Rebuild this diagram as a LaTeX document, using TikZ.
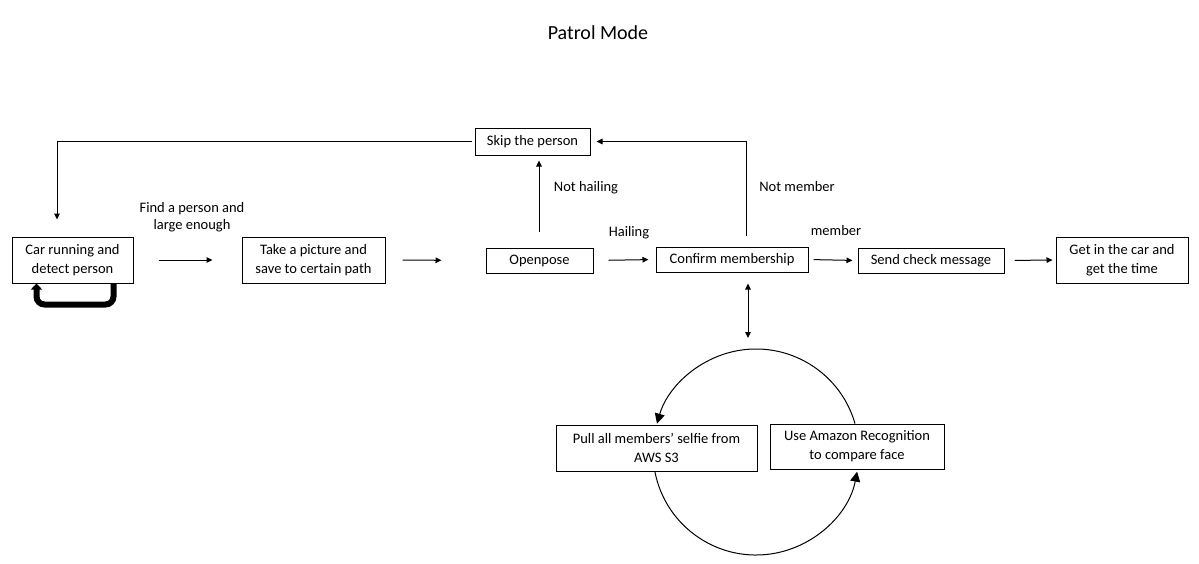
\documentclass[tikz,border=0pt]{standalone}
\usepackage{fontspec}
\setmainfont{Carlito}
\usetikzlibrary{arrows.meta}
\begin{document}
\begin{tikzpicture}[x=1pt,y=1pt,
  box/.style={draw,line width=1pt,fill=white,inner sep=0pt,align=center,font=\fontsize{14.5}{19}\selectfont},
  lbl/.style={inner sep=0pt,align=center,font=\fontsize{14.5}{17}\selectfont},
  conn/.style={line width=1pt,-{Triangle[length=6pt,width=5.5pt]}},
  big/.style={line width=1pt,-{Triangle[length=10pt,width=10pt]}}]
\useasboundingbox (0,0) rectangle (1199,-563);
\node[font=\fontsize{20}{24}\selectfont] (title) at (598,-33) {Patrol Mode};
% circle arcs
\coordinate (cc) at (756,-452);
\draw[big] (cc) ++(16:103) arc[start angle=16,end angle=164,radius=103];
\draw[big] (cc) ++(191:103) arc[start angle=191,end angle=349,radius=103];
% boxes
\node[box,minimum width=121pt,minimum height=46pt] (car) at (72.5,-260) {Car running and\\detect person};
\node[box,minimum width=143pt,minimum height=46pt] (take) at (313.5,-260) {Take a picture and\\save to certain path};
\node[box,minimum width=107pt,minimum height=25pt] (open) at (539.5,-260.5) {Openpose};
\node[box,minimum width=152pt,minimum height=25pt] (conf) at (732,-259.5) {Confirm membership};
\node[box,minimum width=146pt,minimum height=25pt] (send) at (931,-260.5) {Send check message};
\node[box,minimum width=132pt,minimum height=46pt] (get) at (1122,-260) {Get in the car and\\get the time};
\node[box,minimum width=115pt,minimum height=27pt] (skip) at (532.5,-141.5) {Skip the person};
\node[box,minimum width=201pt,minimum height=46pt] (pull) at (656.5,-448) {Pull all members’ selfie from\\AWS S3};
\node[box,minimum width=174pt,minimum height=45pt] (amaz) at (857,-446.5) {Use Amazon Recognition\\to compare face};
% labels
\node[lbl] (l1) at (192,-217) {Find a person and\\large enough};
\node[lbl] (l2) at (629,-233) {Hailing};
\node[lbl] (l3) at (836,-231) {member};
\node[lbl] (l4) at (586,-188) {Not hailing};
\node[lbl] (l5) at (797,-187) {Not member};
% connectors
\draw[conn,shorten <=25pt,shorten >=29pt] (car.east) -- (take.west);
\draw[conn,shorten <=17pt,shorten >=44pt] (take.east) -- (open.west);
\draw[conn,shorten <=15pt,shorten >=7pt] (open.east) -- (conf.west);
\draw[conn,shorten <=5pt,shorten >=5pt] (conf.east) -- (send.west);
\draw[conn,shorten <=10pt,shorten >=3pt] (send.east) -- (get.west);
\draw[conn,shorten <=16pt,shorten >=5pt] ([xshift=-0.5pt]open.north) -- ([xshift=-0.5pt]open.north |- skip.south);
\draw[conn,shorten <=11pt,shorten >=6pt] ([xshift=14pt]conf.north) |- (skip.east);
\draw[conn,shorten <=3pt,shorten >=17pt] (skip.west) -| ([xshift=-15.5pt]car.north);
\coordinate (ctop) at (748,-338);
\draw[line width=1pt,{Triangle[length=6pt,width=5.5pt]}-{Triangle[length=6pt,width=5.5pt]}] ([xshift=16pt,yshift=-11pt]conf.south) -- (ctop);
% self loop
\draw[line width=6pt,rounded corners=8pt,-{Triangle[length=6pt,width=11pt]}] ([xshift=41pt]car.south) -- ++(0,-21) -| ([xshift=-36pt]car.south);
\end{tikzpicture}
\end{document}
